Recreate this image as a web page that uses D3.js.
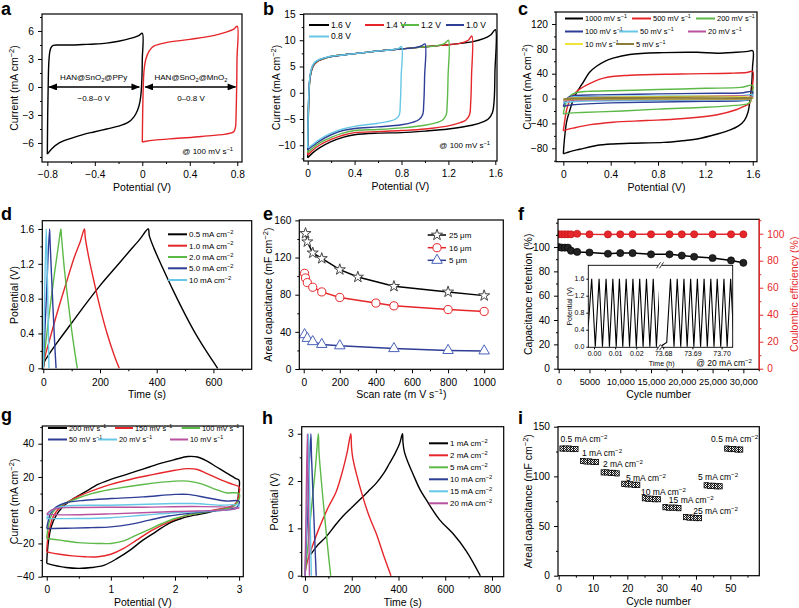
<!DOCTYPE html>
<html><head><meta charset="utf-8">
<script src="https://cdn.jsdelivr.net/npm/d3@7"></script>
<style>body{margin:0;background:#fff}svg{display:block}text{font-family:"Liberation Sans",Arial,Helvetica,sans-serif}</style>
</head><body>
<svg id="fig" width="799" height="608"></svg>
<script>
// ---------------- DATA ----------------
const COL = {k:'#000000', r:'#e5262a', g:'#5cb947', b:'#2e3d96', c:'#66c7e6', m:'#b9519f', y:'#f2e33a', o:'#8a7d3c'};

// Panel a: CV of the two electrodes (V, mA cm-2)
const aTicksX=[-0.8,-0.4,0,0.4,0.8], aMinorX=[-0.6,-0.2,0.2,0.6];
const aTicksY=[-6,-3,0,3,6], aMinorY=[-7.5,-4.5,-1.5,1.5,4.5,7.5];
const aPPy=[[-0.8,-7.2],[-0.797,-3],[-0.793,0],[-0.788,2.5],[-0.78,3.7],[-0.77,4.2],[-0.75,4.45],[-0.7,4.5],[-0.6,4.5],[-0.5,4.55],[-0.4,4.6],[-0.3,4.7],[-0.2,4.9],[-0.1,5.2],[-0.03,5.5],[0,5.75],[0,3],[-0.003,1],[-0.01,-0.6],[-0.02,-1.6],[-0.04,-2.5],[-0.07,-3.2],[-0.12,-3.8],[-0.2,-4.2],[-0.3,-4.5],[-0.4,-4.8],[-0.5,-5.1],[-0.6,-5.5],[-0.7,-6.0],[-0.76,-6.6],[-0.8,-7.2]];
const aMnO2=[[0,-5.9],[0.003,-3],[0.008,0],[0.015,1.8],[0.03,3.0],[0.06,3.9],[0.1,4.4],[0.2,4.75],[0.4,5.1],[0.6,5.5],[0.7,5.85],[0.77,6.2],[0.8,6.5],[0.798,3],[0.795,0],[0.79,-3],[0.785,-4.3],[0.77,-4.8],[0.7,-5.05],[0.5,-5.3],[0.3,-5.5],[0.1,-5.7],[0.02,-5.85],[0,-5.9]];
const aArrows=[[-0.785,-0.025],[0.025,0.785]];

// Panel b: CV at different voltage windows
const bTicksX=[0,0.4,0.8,1.2,1.6], bMinorX=[0.2,0.6,1.0,1.4];
const bTicksY=[-10,-5,0,5,10,15], bMinorY=[-12.5,-7.5,-2.5,2.5,7.5,12.5];
const bWindows=['1.6 V','1.4 V','1.2 V','1.0 V','0.8 V'];
const b16=[[0,-12.4],[0.003,-8],[0.007,-3],[0.012,0.5],[0.02,2.8],[0.035,4.4],[0.06,5.5],[0.1,6.2],[0.15,6.6],[0.2,6.9],[0.3,7.2],[0.4,7.45],[0.5,7.7],[0.6,7.95],[0.7,8.15],[0.8,8.35],[0.9,8.55],[1.0,8.75],[1.1,8.95],[1.2,9.15],[1.3,9.4],[1.4,9.7],[1.5,10.3],[1.56,11],[1.6,12],[1.597,4],[1.59,-1.5],[1.575,-3.8],[1.54,-5.0],[1.5,-5.5],[1.4,-6.2],[1.2,-6.9],[1.0,-7.3],[0.8,-7.6],[0.6,-7.7],[0.4,-8.0],[0.3,-8.5],[0.2,-9.3],[0.1,-10.5],[0.04,-11.5],[0,-12.4]];
const b14=[[0,-11.9],[0.003,-7.5],[0.007,-2.8],[0.012,0.6],[0.02,2.9],[0.035,4.5],[0.06,5.5],[0.1,6.2],[0.15,6.6],[0.2,6.9],[0.3,7.2],[0.4,7.45],[0.5,7.7],[0.6,7.95],[0.7,8.15],[0.8,8.35],[0.9,8.55],[1.0,8.75],[1.1,8.95],[1.2,9.15],[1.3,9.4],[1.37,10.0],[1.4,10.8],[1.397,3],[1.39,-2],[1.38,-4.2],[1.35,-5.2],[1.3,-5.7],[1.2,-6.3],[1.0,-6.9],[0.8,-7.2],[0.6,-7.4],[0.4,-7.6],[0.3,-8.1],[0.2,-8.9],[0.1,-10.0],[0.04,-11],[0,-11.9]];
const b12=[[0,-11.4],[0.003,-7],[0.007,-2.5],[0.012,0.7],[0.02,3.0],[0.035,4.6],[0.06,5.6],[0.1,6.25],[0.15,6.6],[0.2,6.9],[0.3,7.2],[0.4,7.45],[0.5,7.7],[0.6,7.95],[0.7,8.15],[0.8,8.35],[0.9,8.55],[1.0,8.75],[1.1,8.95],[1.17,9.4],[1.2,10.0],[1.197,3],[1.19,-2],[1.18,-4.3],[1.15,-5.2],[1.1,-5.7],[1.0,-6.2],[0.8,-6.7],[0.6,-7.0],[0.4,-7.2],[0.3,-7.7],[0.2,-8.5],[0.1,-9.6],[0.04,-10.6],[0,-11.4]];
const b10=[[0,-10.9],[0.003,-6.5],[0.007,-2.2],[0.012,0.8],[0.02,3.1],[0.035,4.7],[0.06,5.7],[0.1,6.3],[0.15,6.65],[0.2,6.9],[0.3,7.2],[0.4,7.45],[0.5,7.7],[0.6,7.95],[0.7,8.15],[0.8,8.35],[0.9,8.55],[0.97,8.9],[1.0,9.3],[0.997,3],[0.99,-2],[0.98,-4.2],[0.95,-5.1],[0.9,-5.6],[0.8,-6.1],[0.6,-6.5],[0.4,-6.8],[0.3,-7.2],[0.2,-8.0],[0.1,-9.2],[0.04,-10.2],[0,-10.9]];
const b08=[[0,-10.5],[0.003,-6],[0.007,-2],[0.012,0.9],[0.02,3.2],[0.035,4.8],[0.06,5.8],[0.1,6.35],[0.15,6.7],[0.2,6.95],[0.3,7.2],[0.4,7.45],[0.5,7.7],[0.6,7.95],[0.7,8.15],[0.77,8.4],[0.8,8.8],[0.797,3],[0.79,-2],[0.78,-4.3],[0.75,-5.0],[0.7,-5.4],[0.6,-5.8],[0.5,-6.1],[0.4,-6.4],[0.3,-6.9],[0.2,-7.7],[0.1,-8.9],[0.04,-9.9],[0,-10.5]];

// Panel c: CV at different scan rates
const cTicksX=[0,0.4,0.8,1.2,1.6], cMinorX=[0.2,0.6,1.0,1.4];
const cTicksY=[-80,-40,0,40,80,120], cMinorY=[-100,-60,-20,20,60,100,140];
const cRates=['1000 mV s','500 mV s','200 mV s','100 mV s','50 mV s','20 mV s','10 mV s','5 mV s'];
const c1000=[[0,-89],[0.005,-75],[0.015,-55],[0.03,-35],[0.056,-18],[0.08,-4],[0.11,8.6],[0.17,27],[0.22,42],[0.28,52],[0.35,60],[0.42,65],[0.56,71],[0.85,74],[1.13,74.5],[1.3,73],[1.46,74.5],[1.56,76],[1.6,77],[1.598,50],[1.59,20],[1.575,-5],[1.56,-22],[1.53,-35],[1.48,-44],[1.41,-50.5],[1.3,-57],[1.13,-65],[1.0,-68],[0.85,-70.5],[0.56,-72],[0.42,-73],[0.28,-75.5],[0.14,-81.5],[0.07,-84.5],[0.03,-87],[0,-89]];
const c500=[[0,-52],[0.01,-38],[0.028,-18],[0.056,-2],[0.11,11],[0.2,22],[0.34,33],[0.56,37.5],[0.99,39.5],[1.41,40.8],[1.55,42],[1.6,43.5],[1.598,20],[1.59,0],[1.57,-8],[1.52,-13],[1.46,-18],[1.3,-26],[0.99,-32.5],[0.7,-35.4],[0.42,-38],[0.23,-42],[0.085,-47.5],[0.03,-50],[0,-52]];
const c200=[[0,-25],[0.01,-15],[0.03,-3],[0.06,5],[0.1,9],[0.2,11.5],[0.5,13],[0.8,14.5],[1.2,16.5],[1.5,18],[1.6,21],[1.598,10],[1.59,0],[1.575,-6],[1.55,-9],[1.45,-11],[1.2,-14],[0.8,-17],[0.5,-20],[0.3,-21.5],[0.15,-22.5],[0.05,-23.5],[0,-25]];
const c100=[[0,-13],[0.01,-7],[0.03,0],[0.06,3.5],[0.1,5],[0.3,6],[0.8,7.5],[1.3,8.5],[1.5,9],[1.6,11],[1.595,4],[1.585,0],[1.56,-2.5],[1.5,-3.5],[1.2,-4.5],[0.8,-5.5],[0.4,-7],[0.2,-8.5],[0.08,-10],[0.02,-11.5],[0,-13]];
const c50=[[0,-7],[0.02,-2],[0.05,1.5],[0.1,3],[0.8,4],[1.5,4.5],[1.6,6],[1.59,0],[1.55,-1.8],[1.4,-2.5],[0.8,-3],[0.2,-4],[0.05,-5.5],[0,-7]];
const c20=[[0,-3.5],[0.03,0],[0.1,1.5],[0.8,2],[1.6,2.8],[1.59,0],[1.5,-1.2],[0.8,-1.5],[0.1,-2.2],[0,-3.5]];
const c10=[[0,-1.8],[0.04,0],[0.1,0.9],[1.6,1.5],[1.59,0],[1.5,-0.7],[0.1,-1.1],[0,-1.8]];
const c5=[[0,-1],[0.05,0],[0.1,0.5],[1.6,0.9],[1.59,0],[1.5,-0.4],[0.1,-0.6],[0,-1]];

// Panel d: charge/discharge (s, V)
const dTicksX=[0,200,400,600], dMinorX=[100,300,500,700];
const dTicksY=[0,0.4,0.8,1.2,1.6], dMinorY=[0.2,0.6,1.0,1.4];
const dCurrents=['0.5 mA cm','1.0 mA cm','2.0 mA cm','5.0 mA cm','10 mA cm'];
const d05=[[0,0],[5,0.08],[20,0.16],[50,0.3],[100,0.52],[150,0.74],[200,0.95],[250,1.14],[300,1.33],[340,1.48],[370,1.6],[374,1.52],[390,1.38],[420,1.16],[460,0.88],[500,0.62],[540,0.38],[580,0.17],[615,0]];
const d10=[[0,0],[5,0.12],[20,0.3],[50,0.65],[80,0.97],[110,1.28],[130,1.45],[145,1.6],[148,1.5],[160,1.28],[180,0.98],[200,0.7],[225,0.4],[250,0.15],[268,0]];
const d20=[[0,0],[4,0.15],[20,0.6],[40,1.1],[55,1.45],[62,1.6],[64,1.52],[75,1.12],[90,0.7],[105,0.32],[120,0]];
const d50=[[0,0],[2,0.15],[12,0.9],[22,1.6],[24,1.45],[32,0.85],[40,0.3],[45,0]];
const d100=[[0,0],[1,0.15],[10,1.6],[12,1.4],[17,0.6],[20,0]];

// Panel e: areal capacitance vs scan rate
const eTicksX=[0,200,400,600,800,1000], eMinorX=[100,300,500,700,900];
const eTicksY=[0,40,80,120,160], eMinorY=[20,60,100,140];
const eLabels=['25 μm','16 μm','5 μm'];
const eX25=[10,20,50,100,200,300,500,800,1000], eY25=[146,137,125,119,107,99,89,83,79];
const eX16=[5,10,20,50,100,200,400,500,800,1000], eY16=[103,98,93,88,83,77,71,68,64,62];
const eX5=[5,20,50,100,200,500,800,1000], eY5=[37,33,29.5,26.5,25,22,20,19.5];

// Panel f: cycling
const fTicksX=[0,5000,10000,15000,20000,25000,30000], fMinorX=[2500,7500,12500,17500,22500,27500,32500];
const fTicksY=[0,20,40,60,80,100], fMinorY=[10,30,50,70,90,110,120];
const fTicksY2=[0,20,40,60,80,100], fMinorY2=[10,30,50,70,90,110];
const fCycles=[0,500,1000,1500,2000,3000,5000,8000,10000,12000,15000,18000,20000,22000,25000,28000,30000];
const fRetention=[100,99.5,99.5,99.5,97,96,95.5,94.5,95,95,94,94,93,92,91,89,87];
const fCoulombic=[99.6,99.6,99.6,99.6,99.6,100,99.6,99.5,99.6,99.6,99.6,99.6,99.6,99.6,99.6,99.6,99.6];
const fInsetLeft=[[-0.0027,0.5],[-0.0011,1.6],[0.0006,0],[0.0024,1.6],[0.0040,0],[0.0057,1.6],[0.0073,0],[0.0089,1.6],[0.0105,0],[0.0120,1.6],[0.0136,0],[0.0152,1.6],[0.0168,0],[0.0184,1.6],[0.0200,0],[0.0216,1.6],[0.0232,0],[0.0248,1.6],[0.0264,0],[0.0280,1.6],[0.0295,0],[0.0311,1.45]];
const fInsetRight=[[73.6789,0],[73.6812,0.1],[73.6825,1.6],[73.6837,0],[73.6848,1.6],[73.6860,0],[73.6871,1.6],[73.6882,0],[73.6894,1.6],[73.6905,0],[73.6917,1.6],[73.6928,0],[73.6940,1.6],[73.6951,0],[73.6963,1.6],[73.6974,0],[73.6985,1.6],[73.6997,0],[73.7008,1.6],[73.7019,0],[73.7031,1.6],[73.7040,0.4]];
const fInsetTicksY=[0,0.4,0.8,1.2,1.6], fInsetTicksL=[0,0.01,0.02], fInsetTicksR=[73.68,73.69,73.70];

// Panel g: device CV
const gTicksX=[0,1,2,3], gMinorX=[0.5,1.5,2.5];
const gTicksY=[-40,-20,0,20,40], gMinorY=[-30,-10,10,30,50];
const gRates=['200 mV s','150 mV s','100 mV s','50 mV s','20 mV s','10 mV s'];
const g200=[[0,-32],[0.01,-25],[0.03,-18],[0.07,-10],[0.15,-3],[0.25,2],[0.4,6.5],[0.6,11],[0.8,15.5],[1.0,18.5],[1.2,21],[1.4,23.5],[1.6,26],[1.8,28.5],[2.0,30.5],[2.2,32.3],[2.35,32],[2.5,29.5],[2.65,26],[2.8,22.5],[2.95,19],[3.0,18],[2.99,10],[2.97,5],[2.9,2.5],[2.7,0.5],[2.5,-1.5],[2.3,-3],[2.1,-5],[1.9,-8],[1.7,-13],[1.5,-18],[1.3,-24],[1.1,-29],[0.9,-33],[0.7,-34.5],[0.5,-35],[0.3,-34.5],[0.1,-33],[0,-32]];
const g150=[[0,-25],[0.01,-19],[0.04,-12],[0.1,-4],[0.2,1.5],[0.35,5.5],[0.5,8.5],[0.8,13],[1.0,15.5],[1.3,18.5],[1.6,21],[2.0,24],[2.2,25],[2.35,24.5],[2.5,22],[2.7,18.5],[2.9,15.5],[3.0,14],[2.99,8],[2.95,4],[2.85,2],[2.6,0],[2.4,-1.5],[2.2,-3],[2.0,-5.5],[1.8,-9],[1.6,-13],[1.4,-18],[1.2,-23],[1.0,-26.5],[0.8,-28],[0.6,-28],[0.4,-27.5],[0.2,-26.5],[0.05,-25.5],[0,-25]];
const g100=[[0,-17],[0.01,-13],[0.04,-7],[0.1,-1],[0.2,2.5],[0.4,6],[0.7,10],[1.0,12.5],[1.5,15.5],[2.0,17.5],[2.2,17.5],[2.4,16],[2.6,13],[2.8,10.5],[3.0,10],[2.98,5],[2.9,2],[2.7,0.3],[2.5,-1],[2.2,-3],[2.0,-5],[1.8,-8],[1.6,-11.5],[1.4,-15],[1.2,-18.5],[1.0,-20],[0.8,-20],[0.5,-19.5],[0.2,-18],[0,-17]];
const g50=[[0,-11],[0.02,-7],[0.06,-2],[0.15,2],[0.3,4.5],[0.6,6],[1.0,7],[1.5,8],[2.0,9.5],[2.2,9.5],[2.5,7.5],[2.8,5.5],[3.0,5.5],[2.97,2],[2.85,0.5],[2.6,-0.5],[2.2,-2],[1.9,-3.5],[1.6,-6],[1.3,-8.5],[1.0,-10],[0.7,-10.5],[0.4,-10.8],[0.1,-11],[0,-11]];
const g20=[[0,-5],[0.03,-2],[0.1,0.5],[0.3,2.5],[1.0,3],[2.0,4],[2.3,4],[2.7,3],[3.0,3],[2.95,1],[2.5,-0.5],[2.0,-1.5],[1.5,-3],[1.0,-4.5],[0.5,-5],[0,-5]];
const g10=[[0,-2.5],[0.05,-0.5],[0.15,1],[0.4,1.6],[1.5,1.8],[2.3,2.2],[3.0,1.5],[2.9,0.5],[2.0,-0.8],[1.0,-2.2],[0.3,-2.8],[0,-2.5]];

// Panel h: device charge/discharge
const hTicksX=[0,200,400,600,800], hMinorX=[100,300,500,700];
const hTicksY=[0,1,2,3], hMinorY=[0.5,1.5,2.5];
const hCurrents=['1 mA cm','2 mA cm','5 mA cm','10 mA cm','15 mA cm','20 mA cm'];
const h1=[[25,0.45],[50,0.62],[90,0.82],[130,1.07],[161,1.25],[200,1.44],[233,1.6],[270,1.78],[304,1.95],[335,2.15],[361,2.37],[385,2.58],[404,2.78],[417,3.0],[419,2.82],[425,2.62],[440,2.4],[461,2.16],[490,1.84],[519,1.6],[576,1.18],[633,0.89],[690,0.52],[750,0]];
const h2=[[0,0.05],[10,0.3],[30,0.6],[60,1.0],[100,1.45],[133,1.77],[160,2.2],[180,2.6],[196,3.0],[199,2.72],[204,2.5],[220,2.15],[247,1.67],[275,1.25],[304,0.9],[335,0.45],[368,0]];
const h5=[[0,0],[10,0.5],[30,1.55],[45,2.3],[57,3.0],[60,2.6],[70,2.0],[85,1.2],[98,0.55],[110,0]];
const h10=[[0,0],[10,1.2],[25,3.0],[28,2.5],[36,1.5],[43,0.6],[48,0]];
const h15=[[0,0],[7,1.3],[15,3.0],[18,2.2],[23,1.0],[27,0]];
const h20=[[0,0],[4,1.2],[10,3.0],[12,2.2],[16,1.0],[19,0]];

// Panel i: rate performance
const iTicksX=[0,10,20,30,40,50], iMinorX=[5,15,25,35,45,55];
const iTicksY=[0,50,100,150], iMinorY=[25,75,125];
const iCycles=[1,2,3,4,5,7,8,9,10,11,13,14,15,16,17,19,20,21,22,23,25,26,27,28,29,31,32,33,34,35,37,38,39,40,41,43,44,45,46,47,49,50,51,52,53];
const iValues=[128,128,128,127.5,127.5,115.5,115,115,114.5,114.5,104,104,103.5,103.5,103,92.5,92,92,91.5,91.5,78,77.5,77.5,77,77,69,68.5,68.5,68.5,68,59,58.5,58.5,58,58,91,90.5,90.5,90,90,128,127.5,127.5,127,127];
const iLabelText=['0.5 mA cm','1 mA cm','2 mA cm','5 mA cm','10 mA cm','15 mA cm','25 mA cm','5 mA cm','0.5 mA cm'];
const iLabelX=[0.5,6.8,12.9,19.6,24.0,32.1,39.2,40.6,44.4];
const iLabelY=[134.6,120.5,109.4,95.3,81.2,73.2,62.1,96.3,134.6];

// ---------------- DRAWING ----------------
const FONT='"Liberation Sans", Arial, Helvetica, sans-serif';
const svg=d3.select('#fig');
const defs=svg.append('defs');
defs.append('marker').attr('id','arr').attr('viewBox','0 0 10 8').attr('refX',9).attr('refY',4)
  .attr('markerWidth',9).attr('markerHeight',7).attr('markerUnits','userSpaceOnUse').attr('orient','auto-start-reverse')
  .append('path').attr('d','M0,0L10,4L0,8z').attr('fill','#000');
const pat=defs.append('pattern').attr('id','chk').attr('width',2).attr('height',2).attr('patternUnits','userSpaceOnUse');
pat.append('rect').attr('width',2).attr('height',2).attr('fill','#fff');
pat.append('rect').attr('width',1).attr('height',1).attr('fill','#222');
pat.append('rect').attr('x',1).attr('y',1).attr('width',1).attr('height',1).attr('fill','#222');

function rich(parent,x,y,parts,fs,opt){
  opt=opt||{};
  const t=parent.append('text').attr('font-size',fs).attr('fill',opt.fill||'#000').attr('text-anchor',opt.anchor||'start');
  if(opt.rotate){t.attr('transform',`translate(${x},${y}) rotate(-90)`).attr('x',0).attr('y',0);}
  else t.attr('x',x).attr('y',y);
  let cur=0;
  parts.forEach(p=>{
    let off=0,txt=p,size=null;
    if(typeof p!=='string'){ if(p.sup!==undefined){off=-fs*0.38;txt=p.sup;size=fs*0.72;} else {off=fs*0.25;txt=p.sub;size=fs*0.72;} }
    const s=t.append('tspan').attr('dy',off-cur).text(txt);
    if(size) s.attr('font-size',size);
    cur=off;
  });
  return t;
}

const fmt0=f=>d=>d===0?'0':f(d);
function panel(o){
  const x=d3.scaleLinear().domain(o.xd).range([o.L,o.R]);
  const y=d3.scaleLinear().domain(o.yd).range([o.B,o.T]);
  svg.append('clipPath').attr('id','clip'+o.name).append('rect').attr('x',o.L).attr('y',o.T).attr('width',o.R-o.L).attr('height',o.B-o.T);
  const plot=svg.append('g').attr('clip-path',`url(#clip${o.name})`);
  const line=d3.line().x(d=>x(d[0])).y(d=>y(d[1])).curve(d3.curveCatmullRom.alpha(0.5));
  return {x,y,plot,line,o};
}
function axes(P,a){
  const o=P.o;
  const g=svg.append('g').attr('font-family',FONT);
  const fs=a.fs||10.2;
  g.append('g').attr('transform',`translate(0,${o.B})`).call(d3.axisBottom(P.x).tickValues(a.xm).tickSize(2).tickFormat(''));
  g.append('g').attr('transform',`translate(0,${o.B})`).call(d3.axisBottom(P.x).tickValues(a.xt).tickSize(4).tickPadding(5).tickFormat(a.xf)).attr('font-size',a.xfs||fs);
  g.append('g').attr('transform',`translate(${o.L},0)`).call(d3.axisLeft(P.y).tickValues(a.ym).tickSize(2).tickFormat(''));
  g.append('g').attr('transform',`translate(${o.L},0)`).call(d3.axisLeft(P.y).tickValues(a.yt).tickSize(4).tickPadding(4).tickFormat(a.yf)).attr('font-size',fs);
  g.selectAll('.domain').remove();
  g.selectAll('line').attr('stroke','#000').attr('stroke-width',1);
  g.selectAll('text').attr('fill','#000');
  svg.append('rect').attr('x',o.L).attr('y',o.T).attr('width',o.R-o.L).attr('height',o.B-o.T)
    .attr('fill','none').attr('stroke','#000').attr('stroke-width',1.2);
  rich(svg,(o.L+o.R)/2,o.B+29,a.xtitle,10.5,{anchor:'middle'});
  rich(svg,o.L-(a.yoff||24),(o.T+o.B)/2,a.ytitle,10.5,{anchor:'middle',rotate:true});
}
function letter(t,x,y){svg.append('text').attr('x',x).attr('y',y).attr('font-size',18).attr('font-weight','bold').text(t);}
function legLine(x1,x2,y,color,parts,fs,w){
  svg.append('line').attr('x1',x1).attr('x2',x2).attr('y1',y).attr('y2',y).attr('stroke',color).attr('stroke-width',w||2);
  rich(svg,x2+2,y+fs*0.35,parts,fs);
}
const f1=fmt0(d3.format('.1f'));
const LW=1.4;

// ---- a ----
{
  const P=panel({name:'a',L:42,R:242,T:14,B:162,xd:[-0.845,0.84],yd:[-8.04,7.82]});
  P.plot.append('path').datum(aPPy).attr('d',P.line).attr('fill','none').attr('stroke',COL.k).attr('stroke-width',LW);
  P.plot.append('path').datum(aMnO2).attr('d',P.line).attr('fill','none').attr('stroke',COL.r).attr('stroke-width',LW);
  aArrows.forEach(r=>P.plot.append('line').attr('x1',P.x(r[0])).attr('x2',P.x(r[1])).attr('y1',P.y(0)).attr('y2',P.y(0))
    .attr('stroke','#000').attr('stroke-width',1.4).attr('marker-start','url(#arr)').attr('marker-end','url(#arr)'));
  rich(svg,P.x(-0.41),P.y(0)-7,['HAN@SnO',{sub:'2'},'@PPy'],8,{anchor:'middle'});
  rich(svg,P.x(-0.41),P.y(0)+14,['−0.8–0 V'],8,{anchor:'middle'});
  rich(svg,P.x(0.41),P.y(0)-7,['HAN@SnO',{sub:'2'},'@MnO',{sub:'2'}],8,{anchor:'middle'});
  rich(svg,P.x(0.41),P.y(0)+14,['0–0.8 V'],8,{anchor:'middle'});
  rich(svg,233,154,['@ 100 mV s',{sup:'−1'}],8,{anchor:'end'});
  axes(P,{xt:aTicksX,xm:aMinorX,yt:aTicksY,ym:aMinorY,xf:f1,yf:d3.format('d'),xtitle:['Potential (V)'],ytitle:['Current (mA cm',{sup:'−2'},')']});
  letter('a',1,15);
}
// ---- b ----
{
  const P=panel({name:'b',L:303.7,R:497,T:14,B:161,xd:[-0.034,1.6145],yd:[-13,15]});
  const curves=[b16,b14,b12,b10,b08], cols=[COL.k,COL.r,COL.g,COL.b,COL.c];
  curves.forEach((c,i)=>P.plot.append('path').datum(c).attr('d',P.line).attr('fill','none').attr('stroke',cols[i]).attr('stroke-width',LW));
  const lx=[[309,329,25],[365,384,25],[401,419,25],[446,464,25],[309,329,36.5]];
  lx.forEach((l,i)=>legLine(l[0],l[1],l[2],cols[i],[bWindows[i]],8.5));
  rich(svg,490,148,['@ 100 mV s',{sup:'−1'}],8,{anchor:'end'});
  axes(P,{xt:bTicksX,xm:bMinorX,yt:bTicksY,ym:bMinorY,xf:f1,yf:d3.format('d'),xtitle:['Potential (V)'],ytitle:['Current (mA cm',{sup:'−2'},')']});
  letter('b',263,15);
}
// ---- c ----
{
  const P=panel({name:'c',L:556,R:757,T:12,B:161.7,xd:[-0.062,1.636],yd:[-101.6,139.3]});
  const curves=[c1000,c500,c200,c100,c50,c20,c10,c5], cols=[COL.k,COL.r,COL.g,COL.b,COL.c,COL.m,COL.y,COL.o];
  curves.forEach((c,i)=>P.plot.append('path').datum(c).attr('d',P.line).attr('fill','none').attr('stroke',cols[i]).attr('stroke-width',LW));
  const lx=[[565,583,18.5],[632,651,18.5],[696,715,18.5],[565,583,31.5],[619,638,31.5],[688,706,31.5],[565,583,44],[616,634,44]];
  lx.forEach((l,i)=>legLine(l[0],l[1],l[2],cols[i],[cRates[i],{sup:'−1'}],7.5));
  axes(P,{xt:cTicksX,xm:cMinorX,yt:cTicksY,ym:cMinorY,xf:f1,yf:d3.format('d'),yoff:25,xtitle:['Potential (V)'],ytitle:['Current (mA cm',{sup:'−2'},')']});
  letter('c',518,15);
}
// ---- d ----
{
  const P=panel({name:'d',L:42.3,R:251.7,T:220.7,B:369.3,xd:[-3.5,735],yd:[-0.0115,1.695]});
  const curves=[d05,d10,d20,d50,d100], cols=[COL.k,COL.r,COL.g,COL.b,COL.c];
  curves.forEach((c,i)=>P.plot.append('path').datum(c).attr('d',P.line).attr('fill','none').attr('stroke',cols[i]).attr('stroke-width',LW));
  const ys=[234.3,245.7,257,268.3,280];
  ys.forEach((yy,i)=>legLine(168,187,yy,cols[i],[dCurrents[i],{sup:'−2'}],8));
  axes(P,{xt:dTicksX,xm:dMinorX,yt:dTicksY,ym:dMinorY,xf:d3.format('d'),yf:f1,xtitle:['Time (s)'],ytitle:['Potential (V)']});
  letter('d',1,220);
}
// ---- e ----
{
  const P=panel({name:'e',L:299.3,R:503.3,T:220,B:369.3,xd:[-24.4,1106],yd:[-0.3,160.4]});
  const sets=[[eX25,eY25,COL.k,'#444',d3.symbolStar,38],[eX16,eY16,COL.r,COL.r,d3.symbolCircle,52],[eX5,eY5,COL.b,'#4a62b8',d3.symbolTriangle,48]];
  const lin=d3.line().x(d=>P.x(d[0])).y(d=>P.y(d[1]));
  sets.forEach(s=>{
    const pts=s[0].map((v,i)=>[v,s[1][i]]);
    P.plot.append('path').datum(pts).attr('d',lin).attr('fill','none').attr('stroke',s[2]).attr('stroke-width',1.5);
  });
  sets.forEach(s=>{
    const pts=s[0].map((v,i)=>[v,s[1][i]]);
    svg.append('g').selectAll('path').data(pts).join('path')
      .attr('transform',d=>`translate(${P.x(d[0])},${P.y(d[1])})`)
      .attr('d',d3.symbol().type(s[4]).size(s[5])).attr('fill','#fff').attr('stroke',s[3]).attr('stroke-width',1);
  });
  const ys=[235,247.7,260.3];
  sets.forEach((s,i)=>{
    svg.append('line').attr('x1',427.7).attr('x2',446).attr('y1',ys[i]).attr('y2',ys[i]).attr('stroke',s[2]).attr('stroke-width',1.5);
    svg.append('path').attr('transform',`translate(437,${ys[i]})`).attr('d',d3.symbol().type(s[4]).size(s[5])).attr('fill','#fff').attr('stroke',s[3]);
    rich(svg,449,ys[i]+2.8,[eLabels[i]],8);
  });
  axes(P,{xt:eTicksX,xm:eMinorX,yt:eTicksY,ym:eMinorY,xf:d3.format('d'),yf:d3.format('d'),yoff:27,xtitle:['Scan rate (m V s',{sup:'−1'},')'],ytitle:['Areal capacitance (mF cm',{sup:'−2'},')']});
  letter('e',263,220);
}
// ---- f ----
{
  const o={name:'f',L:558,R:759.3,T:219.3,B:369.3,xd:[-114,32590],yd:[-0.5,122.8]};
  const P=panel(o);
  const y2=d3.scaleLinear().domain([-0.44,110.7]).range([o.B,o.T]);
  const lin=d3.line().x(d=>P.x(d[0])).y(d=>d[1]);
  const red=fCycles.map((c,i)=>[c,y2(fCoulombic[i])]);
  const blk=fCycles.map((c,i)=>[c,P.y(fRetention[i])]);
  P.plot.append('path').datum(red).attr('d',lin).attr('fill','none').attr('stroke',COL.r).attr('stroke-width',1.5);
  P.plot.append('g').selectAll('circle').data(red).join('circle').attr('cx',d=>P.x(d[0])).attr('cy',d=>d[1]).attr('r',3.6).attr('fill',COL.r).attr('stroke','#c01418').attr('stroke-width',0.6);
  P.plot.append('path').datum(blk).attr('d',lin).attr('fill','none').attr('stroke','#000').attr('stroke-width',1.5);
  P.plot.append('g').selectAll('circle').data(blk).join('circle').attr('cx',d=>P.x(d[0])).attr('cy',d=>d[1]).attr('r',3.6).attr('fill','#222').attr('stroke','#000').attr('stroke-width',0.6);
  // inset
  const IL=588.3, IR=732.7, IT=265.3, IB=347.3, IBRK=660;
  svg.append('rect').attr('x',IL).attr('y',IT).attr('width',IR-IL).attr('height',IB-IT).attr('fill','#fff');
  const xl=d3.scaleLinear().domain([-0.0027,0.0312]).range([IL,IBRK]);
  const xr=d3.scaleLinear().domain([73.6789,73.7038]).range([IBRK,IR]);
  const yi=d3.scaleLinear().domain([-0.014,1.915]).range([IB,IT]);
  svg.append('clipPath').attr('id','cfl').append('rect').attr('x',IL).attr('y',IT).attr('width',IBRK-IL-1).attr('height',IB-IT);
  svg.append('clipPath').attr('id','cfr').append('rect').attr('x',IBRK).attr('y',IT).attr('width',IR-IBRK).attr('height',IB-IT);
  svg.append('path').attr('clip-path','url(#cfl)').datum(fInsetLeft).attr('d',d3.line().x(d=>xl(d[0])).y(d=>yi(d[1]))).attr('fill','none').attr('stroke','#000').attr('stroke-width',1.1);
  svg.append('path').attr('clip-path','url(#cfr)').datum(fInsetRight).attr('d',d3.line().x(d=>xr(d[0])).y(d=>yi(d[1]))).attr('fill','none').attr('stroke','#000').attr('stroke-width',1.1);
  svg.append('rect').attr('x',IL).attr('y',IT).attr('width',IR-IL).attr('height',IB-IT).attr('fill','none').attr('stroke','#000').attr('stroke-width',0.9);
  const ig=svg.append('g').attr('font-family',FONT);
  ig.append('g').attr('transform',`translate(${IL},0)`).call(d3.axisLeft(yi).tickValues(fInsetTicksY).tickSize(2).tickPadding(2).tickFormat(d3.format('.1f')));
  ig.append('g').attr('transform',`translate(0,${IB})`).call(d3.axisBottom(xl).tickValues(fInsetTicksL).tickSize(2).tickPadding(2).tickFormat(d3.format('.2f')));
  ig.append('g').attr('transform',`translate(0,${IB})`).call(d3.axisBottom(xr).tickValues(fInsetTicksR).tickSize(2).tickPadding(2).tickFormat(d3.format('.2f')));
  ig.selectAll('.domain').remove();
  ig.selectAll('text').attr('font-size',7).attr('fill','#000');
  ig.selectAll('line').attr('stroke','#000');
  [IT,IB].forEach(yy=>{
    svg.append('rect').attr('x',IBRK-2).attr('y',yy-1.5).attr('width',4).attr('height',3).attr('fill','#fff');
    [-1.5,1.5].forEach(dx=>svg.append('line').attr('x1',IBRK+dx-2).attr('x2',IBRK+dx+2).attr('y1',yy+3).attr('y2',yy-3).attr('stroke','#000').attr('stroke-width',0.8));
  });
  rich(svg,572,(IT+IB)/2,['Potential (V)'],7,{anchor:'middle',rotate:true});
  rich(svg,661.7,366,['Time (h)'],7,{anchor:'middle'});
  rich(svg,752,366,['@ 20 mA cm',{sup:'−2'}],8.5,{anchor:'end'});
  axes(P,{xt:fTicksX,xm:fMinorX,yt:fTicksY,ym:fMinorY,xf:d=>d===0?'0':(d<10000?String(d):d3.format(',')(d)),xfs:9.2,yf:d3.format('d'),yoff:26,xtitle:['Cycle number'],ytitle:['Capacitance retention (%)']});
  const rg=svg.append('g').attr('font-family',FONT);
  rg.append('g').attr('transform',`translate(${o.R},0)`).call(d3.axisRight(y2).tickValues(fMinorY2).tickSize(2).tickFormat(''));
  rg.append('g').attr('transform',`translate(${o.R},0)`).call(d3.axisRight(y2).tickValues(fTicksY2).tickSize(4).tickPadding(4).tickFormat(d3.format('d'))).attr('font-size',10.2);
  rg.selectAll('.domain').remove();
  rg.selectAll('line').attr('stroke',COL.r);
  rg.selectAll('text').attr('fill',COL.r);
  svg.append('line').attr('x1',o.R).attr('x2',o.R).attr('y1',o.T).attr('y2',o.B).attr('stroke',COL.r).attr('stroke-width',1.4);
  rich(svg,798,(o.T+o.B)/2,['Coulombic efficiency (%)'],10.5,{anchor:'middle',rotate:true,fill:COL.r});
  letter('f',518,220);
}
// ---- g ----
{
  const P=panel({name:'g',L:42.3,R:243.3,T:426,B:576.7,xd:[-0.069,3.0655],yd:[-40,50.65]});
  const curves=[g200,g150,g100,g50,g20,g10], cols=[COL.k,COL.r,COL.g,COL.b,COL.c,COL.m];
  curves.forEach((c,i)=>P.plot.append('path').datum(c).attr('d',P.line).attr('fill','none').attr('stroke',cols[i]).attr('stroke-width',LW));
  const lx=[[48,67,428],[115,133,428],[181.7,200,428],[48,67,439.5],[98,117,439.5],[170,188,439.5]];
  lx.forEach((l,i)=>legLine(l[0],l[1],l[2],cols[i],[gRates[i],{sup:'−1'}],7.4));
  axes(P,{xt:gTicksX,xm:gMinorX,yt:gTicksY,ym:gMinorY,xf:d3.format('d'),yf:d3.format('d'),xtitle:['Potential (V)'],ytitle:['Current (mA cm',{sup:'−2'},')']});
  letter('g',1,421);
}
// ---- h ----
{
  const P=panel({name:'h',L:301.7,R:503.7,T:426.7,B:576.7,xd:[-14.1,850],yd:[-0.021,3.148]});
  const curves=[h1,h2,h5,h10,h15,h20], cols=[COL.k,COL.r,COL.g,COL.b,COL.c,COL.m];
  curves.forEach((c,i)=>P.plot.append('path').datum(c).attr('d',P.line).attr('fill','none').attr('stroke',cols[i]).attr('stroke-width',LW));
  const ys=[443.3,455.3,467.3,479.3,491.3,503.3];
  ys.forEach((yy,i)=>legLine(429,448,yy,cols[i],[hCurrents[i],{sup:'−2'}],8));
  axes(P,{xt:hTicksX,xm:hMinorX,yt:hTicksY,ym:hMinorY,xf:d3.format('d'),yf:d3.format('d'),xtitle:['Time (s)'],ytitle:['Potential (V)']});
  letter('h',262,424);
}
// ---- i ----
{
  const P=panel({name:'i',L:558,R:759.3,T:426.7,B:575.7,xd:[-0.2,58.45],yd:[0,150]});
  const pts=iCycles.map((c,i)=>[c,iValues[i]]);
  P.plot.append('g').selectAll('rect').data(pts).join('rect')
    .attr('x',d=>P.x(d[0])-2.2).attr('y',d=>P.y(d[1])-2.6).attr('width',4.4).attr('height',5.2)
    .attr('fill','url(#chk)').attr('stroke','#000').attr('stroke-width',0.8);
  iLabelText.forEach((t,i)=>rich(svg,P.x(iLabelX[i]),P.y(iLabelY[i]),[t,{sup:'−2'}],8.5));
  axes(P,{xt:iTicksX,xm:iMinorX,yt:iTicksY,ym:iMinorY,xf:d3.format('d'),yf:d3.format('d'),yoff:26,xtitle:['Cycle number'],ytitle:['Areal capacitance (mF cm',{sup:'−2'},')']});
  letter('i',518,424);
}
</script></body></html>
